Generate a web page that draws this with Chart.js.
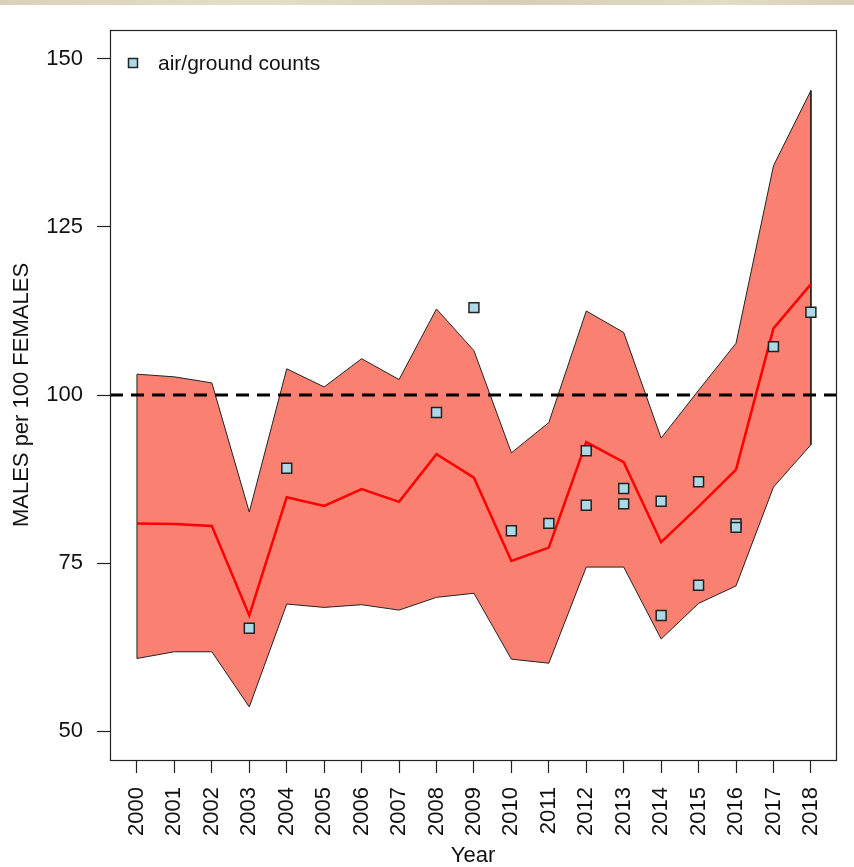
<!DOCTYPE html>
<html>
<head>
<meta charset="utf-8">
<script src="https://cdn.jsdelivr.net/npm/chart.js@4.4.1/dist/chart.umd.min.js"></script>
<style>
  html, body { margin: 0; padding: 0; background: #fff; }
  #wrap { position: relative; width: 854px; height: 867px; }
  #strip { position: absolute; left: 0; top: 0; width: 854px; height: 5px;
           background: linear-gradient(90deg, #d9d1bb, #e4ddc8 30%, #d6ceb6 60%, #e2dbc6 85%, #d8cfb8); }
</style>
</head>
<body>
<div id="wrap">
  <canvas id="chart"></canvas>
  <div id="strip"></div>
</div>
<script>
// years on the x axis
var years = [2000, 2001, 2002, 2003, 2004, 2005, 2006, 2007, 2008, 2009,
             2010, 2011, 2012, 2013, 2014, 2015, 2016, 2017, 2018];
// estimated ratio (red line)
var estimate = [80.9, 80.8, 80.5, 67.2, 84.8, 83.5, 86.0, 84.1, 91.2, 87.7,
                75.3, 77.3, 93.0, 90.0, 78.1, 83.4, 88.9, 109.9, 116.5];
// upper and lower limits of the band
var upper = [103.1, 102.7, 101.8, 82.6, 103.9, 101.2, 105.4, 102.3, 112.8, 106.6,
             91.4, 95.9, 112.5, 109.3, 93.6, 100.7, 107.7, 134.1, 145.3];
var lower = [60.8, 61.8, 61.8, 53.6, 68.9, 68.4, 68.8, 68.0, 69.9, 70.5,
             60.7, 60.1, 74.4, 74.4, 63.7, 69.0, 71.6, 86.3, 92.6];
// air/ground counts (squares)
var countYears  = [2003, 2004, 2008, 2009, 2010, 2011, 2012, 2012, 2013, 2013,
                   2014, 2014, 2015, 2015, 2016, 2016, 2017, 2018];
var countValues = [65.3, 89.1, 97.4, 113.0, 79.8, 80.9, 91.7, 83.6, 86.1, 83.8,
                   84.2, 67.2, 87.1, 71.7, 80.8, 80.3, 107.2, 112.3];
var yTicks = [50, 75, 100, 125, 150];
var refLine = 100;

var xMin = 1999.28, xMax = 2018.67;
var yMin = 45.7, yMax = 154.3;
var font = "'Liberation Sans', Arial, sans-serif";

// band polygon: along the upper limit, back along the lower limit
var band = years.map(function (y, i) { return {x: y, y: upper[i]}; });
for (var i = years.length - 1; i >= 0; i--) band.push({x: years[i], y: lower[i]});
band.push({x: years[0], y: upper[0]});

var boxAndLegend = {
    id: 'boxAndLegend',
    afterDraw: function (chart) {
        var ctx = chart.ctx, a = chart.chartArea;
        ctx.save();
        ctx.strokeStyle = '#222';
        ctx.lineWidth = 1.2;
        ctx.strokeRect(a.left + 0.5, a.top + 0.5, a.right - a.left, a.bottom - a.top);
        // legend
        ctx.fillStyle = '#add8e6';
        ctx.strokeStyle = '#222';
        ctx.lineWidth = 1.5;
        ctx.fillRect(128.5, 58.5, 9, 9);
        ctx.strokeRect(128.5, 58.5, 9, 9);
        ctx.fillStyle = '#111';
        ctx.font = '21px ' + font;
        ctx.textBaseline = 'middle';
        ctx.fillText('air/ground counts', 158, 64);
        ctx.restore();
    }
};

new Chart(document.getElementById('chart'), {
    type: 'line',
    data: {
        datasets: [{
            label: 'band',
            data: band,
            borderColor: '#222',
            borderWidth: 1,
            backgroundColor: '#fa8072',
            fill: 'shape',
            pointRadius: 0,
            tension: 0,
            order: 3
        }, {
            label: 'ref',
            data: [{x: xMin, y: refLine}, {x: xMax, y: refLine}],
            borderColor: '#000',
            borderWidth: 3,
            borderDash: [13, 8],
            pointRadius: 0,
            fill: false,
            order: 2
        }, {
            label: 'estimate',
            data: years.map(function (y, i) { return {x: y, y: estimate[i]}; }),
            borderColor: '#ff0000',
            borderWidth: 2.5,
            pointRadius: 0,
            fill: false,
            tension: 0,
            order: 1
        }, {
            label: 'air/ground counts',
            data: countYears.map(function (y, i) { return {x: y, y: countValues[i]}; }),
            showLine: false,
            pointStyle: 'rect',
            pointRadius: 7,
            pointBackgroundColor: '#add8e6',
            pointBorderColor: '#222',
            pointBorderWidth: 1.5,
            order: 0
        }]
    },
    options: {
        responsive: true,
        maintainAspectRatio: false,
        animation: false,
        events: [],
        layout: { padding: { top: 30, right: 18, left: 0, bottom: 0 } },
        plugins: {
            legend: { display: false },
            tooltip: { enabled: false }
        },
        scales: {
            x: {
                type: 'linear',
                min: xMin,
                max: xMax,
                afterBuildTicks: function (s) { s.ticks = years.map(function (v) { return {value: v}; }); },
                afterFit: function (s) { s.height = 107; },
                grid: { drawOnChartArea: false, drawTicks: true, tickLength: 13, tickColor: '#222', tickWidth: 1.2 },
                border: { display: true, color: '#222' },
                ticks: {
                    autoSkip: false,
                    minRotation: 90,
                    maxRotation: 90,
                    padding: 14,
                    color: '#111',
                    font: { family: font, size: 22 },
                    callback: function (v) { return String(v); }
                },
                title: {
                    display: true,
                    text: 'Year',
                    color: '#111',
                    padding: 0,
                    font: { family: font, size: 22, lineHeight: 1 }
                }
            },
            y: {
                min: yMin,
                max: yMax,
                afterBuildTicks: function (s) { s.ticks = yTicks.map(function (v) { return {value: v}; }); },
                afterFit: function (s) { s.width = 110; },
                grid: { drawOnChartArea: false, drawTicks: true, tickLength: 13, tickColor: '#222', tickWidth: 1.2 },
                border: { display: true, color: '#222' },
                ticks: {
                    padding: 14,
                    color: '#111',
                    font: { family: font, size: 22 },
                    callback: function (v) { return String(v); }
                },
                title: {
                    display: true,
                    text: 'MALES per 100 FEMALES',
                    color: '#111',
                    padding: { top: 9, bottom: 0 },
                    font: { family: font, size: 22, lineHeight: 1.2 }
                }
            }
        }
    },
    plugins: [boxAndLegend]
});
</script>
</body>
</html>
